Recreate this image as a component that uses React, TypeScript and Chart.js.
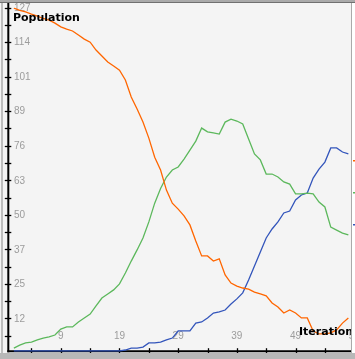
import React, { useEffect, useRef } from 'react';
import { Chart, registerables } from 'chart.js';

Chart.register(...registerables);

// Iterations (x values)
const iterations = [
  1, 2, 3, 4, 5, 6, 7, 8, 9, 10, 11, 12, 13, 14, 15, 16, 17, 18, 19, 20,
  21, 22, 23, 24, 25, 26, 27, 28, 29, 30, 31, 32, 33, 34, 35, 36, 37, 38, 39, 40,
  41, 42, 43, 44, 45, 46, 47, 48, 49, 50, 51, 52, 53, 54, 55, 56, 57, 58,
];

// Population series
const orangeSeries = [
  126.8, 126, 125.4, 124.6, 123.9, 123, 122.4, 121.3, 119.9, 119.1,
  118.4, 116.9, 115.4, 114.3, 111.4, 109.2, 107, 105.5, 104, 100.4,
  94.1, 89.7, 84.9, 79, 72, 67.3, 59.9, 55.1, 52.9, 50.4,
  47.1, 41.2, 35.7, 35.7, 33.8, 34.6, 28.7, 25.7, 24.6, 23.9,
  23.5, 22.4, 21.7, 21, 18.4, 16.9, 14.7, 15.8, 14.7, 12.9,
  12.9, 8.1, 7, 7, 7.4, 8.5, 11, 12.9,
];
const greenSeries = [
  1.8, 2.9, 3.7, 4, 4.8, 5.5, 5.9, 6.6, 8.8, 9.6,
  9.6, 11.4, 12.9, 14.3, 17.3, 20.2, 21.7, 23.2, 25.4, 29.4,
  33.8, 37.9, 42.3, 48.2, 55.1, 60.5, 64.7, 67.3, 68.4, 71.3,
  74.6, 77.9, 82.7, 81.3, 80.9, 80.5, 84.9, 86, 85.3, 84.2,
  78.7, 73.2, 71, 65.8, 65.8, 64.7, 62.9, 62.1, 58.5, 58.5,
  58.8, 58.5, 55.5, 53.7, 46.3, 45.2, 44.1, 43.4,
];
const blueSeries = [
  0.8, 0.8, 0.8, 0.8, 0.8, 0.8, 0.8, 0.8, 0.8, 0.8,
  0.8, 0.8, 0.8, 0.8, 0.8, 0.8, 0.8, 0.8, 0.8, 1.1,
  1.8, 1.8, 2.2, 3.7, 3.7, 4, 4.8, 5.5, 8.1, 8.1,
  8.1, 11, 11.4, 12.9, 14.7, 15.1, 15.8, 18, 19.9, 22.1,
  26.8, 32, 37.1, 42.3, 45.6, 48.2, 51.5, 52.2, 56.3, 58.1,
  58.8, 64.3, 67.6, 70.2, 75.4, 75.4, 73.9, 73.2,
];

// Axis ticks
const yTickValues = [12.7, 25.4, 38.1, 50.8, 63.5, 76.2, 88.9, 101.6, 114.3, 127];
const yTickLabels = ['12', '25', '37', '50', '63', '76', '89', '101', '114', '127'];
const yMinorStep = 6.35;
const xTickLabels = [9, 19, 29, 39, 49, 59];
const xTickMarks = [4, 9, 14, 19, 24, 29, 34, 39, 44, 49, 54, 59];

const W = 355;
const H = 359;

const framePlugin = {
  id: 'framePlugin',
  beforeDraw(chart: any) {
    const ctx = chart.ctx;
    ctx.save();
    ctx.fillStyle = '#f4f4f4';
    ctx.fillRect(0, 0, W, H);
    ctx.restore();
  },
  beforeDatasetsDraw(chart: any) {
    const { ctx, scales } = chart;
    const xs = scales.x;
    const ys = scales.y;
    const axisX = xs.getPixelForValue(0) + 0.3;
    const axisY = ys.getPixelForValue(0) - 1.8;
    ctx.save();
    // y axis
    ctx.strokeStyle = '#000';
    ctx.lineWidth = 2;
    ctx.beginPath();
    ctx.moveTo(axisX, 3);
    ctx.lineTo(axisX, axisY + 1);
    ctx.stroke();
    // y ticks
    ctx.lineWidth = 1.3;
    for (let k = 1; k * yMinorStep <= 127.01; k++) {
      const py = Math.round(ys.getPixelForValue(k * yMinorStep)) + 0.5;
      ctx.beginPath();
      ctx.moveTo(axisX - 3.5, py);
      ctx.lineTo(axisX + 3, py);
      ctx.stroke();
    }
    // x axis
    ctx.lineWidth = 2;
    ctx.beginPath();
    ctx.moveTo(axisX - 1, axisY);
    ctx.lineTo(W - 3, axisY);
    ctx.stroke();
    ctx.lineWidth = 1.3;
    for (const t of xTickMarks) {
      const px = Math.round(xs.getPixelForValue(t)) + 0.5;
      ctx.beginPath();
      ctx.moveTo(px, axisY - 3);
      ctx.lineTo(px, axisY + 3);
      ctx.stroke();
    }
    // labels
    ctx.fillStyle = '#9c9c9c';
    ctx.font = '10px "Liberation Sans", Arial, sans-serif';
    ctx.textAlign = 'left';
    ctx.textBaseline = 'middle';
    yTickValues.forEach((v, i) => {
      const py = ys.getPixelForValue(v);
      ctx.fillText(yTickLabels[i], 14, py + 0.5);
    });
    ctx.textAlign = 'center';
    for (const t of xTickLabels) {
      const px = xs.getPixelForValue(t);
      ctx.fillText(String(t), px, axisY - 15);
    }
    ctx.restore();
  },
  afterDatasetsDraw(chart: any) {
    const ctx = chart.ctx;
    ctx.save();
    // titles
    ctx.fillStyle = '#000';
    ctx.font = 'bold 11px "DejaVu Sans", sans-serif';
    ctx.textAlign = 'left';
    ctx.textBaseline = 'alphabetic';
    ctx.fillText('Population', 13, 20.7);
    ctx.fillText('Iteration', 299, 334.5);
    // borders
    ctx.fillStyle = '#aaaaaa';
    ctx.fillRect(0, 0, W, 2);
    ctx.fillStyle = '#707070';
    ctx.fillRect(0, 2, W, 1);
    ctx.fillStyle = '#bdbdbd';
    ctx.fillRect(1, 3, 2, H - 3);
    ctx.fillStyle = '#ffffff';
    ctx.fillRect(352, 3, 3, H - 3);
    ctx.fillStyle = '#aaaaaa';
    ctx.fillRect(351, 3, 1, H - 3);
    ctx.fillStyle = '#b8b8b8';
    ctx.fillRect(0, 353, W, H - 353);
    // clipped legend markers
    ctx.fillStyle = '#ff6600';
    ctx.fillRect(353, 160, 2, 1.5);
    ctx.fillStyle = '#5cb85c';
    ctx.fillRect(353, 192, 2, 1.5);
    ctx.fillStyle = '#3355bb';
    ctx.fillRect(353, 224, 2, 1.5);
    ctx.restore();
  },
};

export default function App() {
  const canvasRef = useRef<HTMLCanvasElement | null>(null);

  useEffect(() => {
    const canvas = canvasRef.current;
    if (!canvas) return;
    const toPoints = (arr: number[]) => iterations.map((it, i) => ({ x: it, y: arr[i] }));
    const chart = new Chart(canvas, {
      type: 'line',
      data: {
        datasets: [
          {
            label: 'Orange',
            data: toPoints(orangeSeries),
            borderColor: '#ff6600',
            borderWidth: 1.3,
            pointRadius: 0,
            tension: 0,
            fill: false,
          },
          {
            label: 'Green',
            data: toPoints(greenSeries),
            borderColor: '#5cb85c',
            borderWidth: 1.3,
            pointRadius: 0,
            tension: 0,
            fill: false,
          },
          {
            label: 'Blue',
            data: toPoints(blueSeries),
            borderColor: '#3355bb',
            borderWidth: 1.3,
            pointRadius: 0,
            tension: 0,
            fill: false,
          },
        ],
      },
      options: {
        responsive: false,
        animation: false,
        devicePixelRatio: 1,
        layout: { padding: { left: 8, right: 4, top: 7.6, bottom: 6 } },
        plugins: {
          legend: { display: false },
          tooltip: { enabled: false },
        },
        scales: {
          x: { type: 'linear', min: 0, max: 58.45, display: false },
          y: { type: 'linear', min: 0, max: 127, display: false },
        },
      },
      plugins: [framePlugin],
    });
    return () => chart.destroy();
  }, []);

  return (
    <div style={{ position: 'fixed', left: 0, top: 0, width: W, height: H }}>
      <canvas ref={canvasRef} width={W} height={H} style={{ display: 'block' }} />
    </div>
  );
}
